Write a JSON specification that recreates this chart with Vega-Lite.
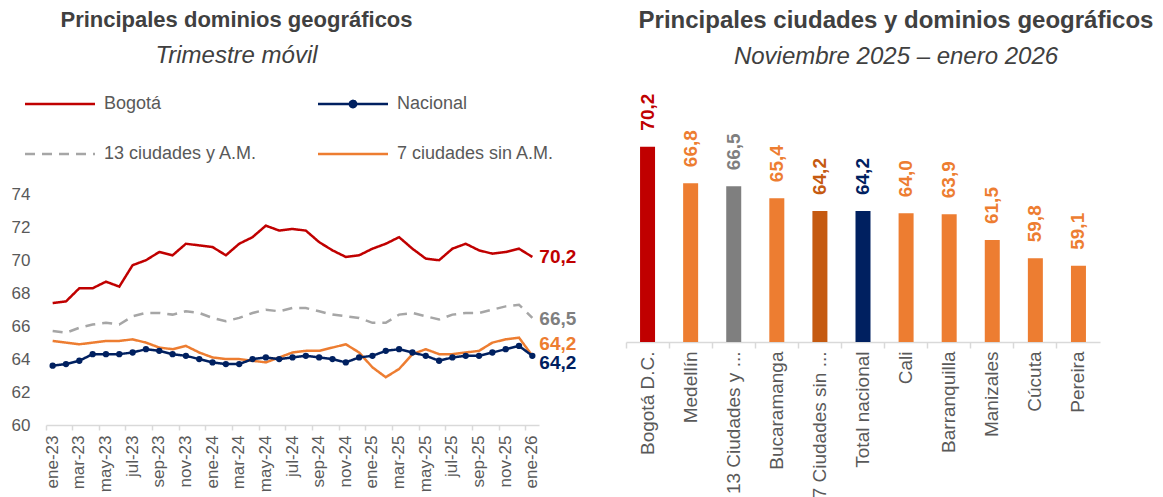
{
  "$schema": "https://vega.github.io/schema/vega-lite/v6.json",
  "background": "white",
  "padding": {"left": 11, "top": 9, "right": 0, "bottom": 0},
  "spacing": 87,
  "bounds": "flush",
  "config": {
    "view": {"stroke": null},
    "font": "Liberation Sans",
    "locale": {"number": {"decimal": ",", "thousands": ".", "grouping": [3], "currency": ["$", ""]}},
    "title": {"font": "Liberation Sans", "fontSize": 22, "fontWeight": "bold", "color": "#404040", "subtitleFont": "Liberation Sans", "subtitleFontSize": 24, "subtitleFontStyle": "italic", "subtitleColor": "#404040", "subtitlePadding": 12, "offset": 10, "anchor": "middle"}
  },
  "resolve": {"scale": {"color": "independent", "x": "independent", "y": "independent", "strokeDash": "independent"}},
  "datasets": {
    "serie": [
      {"mes":"ene-23","serie":"Bogotá","valor":67.4},{"mes":"feb-23","serie":"Bogotá","valor":67.5},{"mes":"mar-23","serie":"Bogotá","valor":68.3},{"mes":"abr-23","serie":"Bogotá","valor":68.3},{"mes":"may-23","serie":"Bogotá","valor":68.7},{"mes":"jun-23","serie":"Bogotá","valor":68.4},{"mes":"jul-23","serie":"Bogotá","valor":69.7},{"mes":"ago-23","serie":"Bogotá","valor":70.0},{"mes":"sep-23","serie":"Bogotá","valor":70.5},{"mes":"oct-23","serie":"Bogotá","valor":70.3},{"mes":"nov-23","serie":"Bogotá","valor":71.0},{"mes":"dic-23","serie":"Bogotá","valor":70.9},{"mes":"ene-24","serie":"Bogotá","valor":70.8},{"mes":"feb-24","serie":"Bogotá","valor":70.3},{"mes":"mar-24","serie":"Bogotá","valor":71.0},{"mes":"abr-24","serie":"Bogotá","valor":71.4},{"mes":"may-24","serie":"Bogotá","valor":72.1},{"mes":"jun-24","serie":"Bogotá","valor":71.8},{"mes":"jul-24","serie":"Bogotá","valor":71.9},{"mes":"ago-24","serie":"Bogotá","valor":71.8},{"mes":"sep-24","serie":"Bogotá","valor":71.1},{"mes":"oct-24","serie":"Bogotá","valor":70.6},{"mes":"nov-24","serie":"Bogotá","valor":70.2},{"mes":"dic-24","serie":"Bogotá","valor":70.3},{"mes":"ene-25","serie":"Bogotá","valor":70.7},{"mes":"feb-25","serie":"Bogotá","valor":71.0},{"mes":"mar-25","serie":"Bogotá","valor":71.4},{"mes":"abr-25","serie":"Bogotá","valor":70.7},{"mes":"may-25","serie":"Bogotá","valor":70.1},{"mes":"jun-25","serie":"Bogotá","valor":70.0},{"mes":"jul-25","serie":"Bogotá","valor":70.7},{"mes":"ago-25","serie":"Bogotá","valor":71.0},{"mes":"sep-25","serie":"Bogotá","valor":70.6},{"mes":"oct-25","serie":"Bogotá","valor":70.4},{"mes":"nov-25","serie":"Bogotá","valor":70.5},{"mes":"dic-25","serie":"Bogotá","valor":70.7},{"mes":"ene-26","serie":"Bogotá","valor":70.2},
      {"mes":"ene-23","serie":"13 ciudades y A.M.","valor":65.7},{"mes":"feb-23","serie":"13 ciudades y A.M.","valor":65.6},{"mes":"mar-23","serie":"13 ciudades y A.M.","valor":65.9},{"mes":"abr-23","serie":"13 ciudades y A.M.","valor":66.1},{"mes":"may-23","serie":"13 ciudades y A.M.","valor":66.2},{"mes":"jun-23","serie":"13 ciudades y A.M.","valor":66.1},{"mes":"jul-23","serie":"13 ciudades y A.M.","valor":66.6},{"mes":"ago-23","serie":"13 ciudades y A.M.","valor":66.8},{"mes":"sep-23","serie":"13 ciudades y A.M.","valor":66.8},{"mes":"oct-23","serie":"13 ciudades y A.M.","valor":66.7},{"mes":"nov-23","serie":"13 ciudades y A.M.","valor":66.9},{"mes":"dic-23","serie":"13 ciudades y A.M.","valor":66.8},{"mes":"ene-24","serie":"13 ciudades y A.M.","valor":66.5},{"mes":"feb-24","serie":"13 ciudades y A.M.","valor":66.3},{"mes":"mar-24","serie":"13 ciudades y A.M.","valor":66.5},{"mes":"abr-24","serie":"13 ciudades y A.M.","valor":66.8},{"mes":"may-24","serie":"13 ciudades y A.M.","valor":67.0},{"mes":"jun-24","serie":"13 ciudades y A.M.","valor":66.9},{"mes":"jul-24","serie":"13 ciudades y A.M.","valor":67.1},{"mes":"ago-24","serie":"13 ciudades y A.M.","valor":67.1},{"mes":"sep-24","serie":"13 ciudades y A.M.","valor":66.9},{"mes":"oct-24","serie":"13 ciudades y A.M.","valor":66.7},{"mes":"nov-24","serie":"13 ciudades y A.M.","valor":66.6},{"mes":"dic-24","serie":"13 ciudades y A.M.","valor":66.5},{"mes":"ene-25","serie":"13 ciudades y A.M.","valor":66.2},{"mes":"feb-25","serie":"13 ciudades y A.M.","valor":66.2},{"mes":"mar-25","serie":"13 ciudades y A.M.","valor":66.7},{"mes":"abr-25","serie":"13 ciudades y A.M.","valor":66.8},{"mes":"may-25","serie":"13 ciudades y A.M.","valor":66.6},{"mes":"jun-25","serie":"13 ciudades y A.M.","valor":66.4},{"mes":"jul-25","serie":"13 ciudades y A.M.","valor":66.7},{"mes":"ago-25","serie":"13 ciudades y A.M.","valor":66.8},{"mes":"sep-25","serie":"13 ciudades y A.M.","valor":66.8},{"mes":"oct-25","serie":"13 ciudades y A.M.","valor":67.0},{"mes":"nov-25","serie":"13 ciudades y A.M.","valor":67.2},{"mes":"dic-25","serie":"13 ciudades y A.M.","valor":67.3},{"mes":"ene-26","serie":"13 ciudades y A.M.","valor":66.5},
      {"mes":"ene-23","serie":"7 ciudades sin A.M.","valor":65.1},{"mes":"feb-23","serie":"7 ciudades sin A.M.","valor":65.0},{"mes":"mar-23","serie":"7 ciudades sin A.M.","valor":64.9},{"mes":"abr-23","serie":"7 ciudades sin A.M.","valor":65.0},{"mes":"may-23","serie":"7 ciudades sin A.M.","valor":65.1},{"mes":"jun-23","serie":"7 ciudades sin A.M.","valor":65.1},{"mes":"jul-23","serie":"7 ciudades sin A.M.","valor":65.2},{"mes":"ago-23","serie":"7 ciudades sin A.M.","valor":65.0},{"mes":"sep-23","serie":"7 ciudades sin A.M.","valor":64.7},{"mes":"oct-23","serie":"7 ciudades sin A.M.","valor":64.6},{"mes":"nov-23","serie":"7 ciudades sin A.M.","valor":64.8},{"mes":"dic-23","serie":"7 ciudades sin A.M.","valor":64.4},{"mes":"ene-24","serie":"7 ciudades sin A.M.","valor":64.1},{"mes":"feb-24","serie":"7 ciudades sin A.M.","valor":64.0},{"mes":"mar-24","serie":"7 ciudades sin A.M.","valor":64.0},{"mes":"abr-24","serie":"7 ciudades sin A.M.","valor":63.9},{"mes":"may-24","serie":"7 ciudades sin A.M.","valor":63.8},{"mes":"jun-24","serie":"7 ciudades sin A.M.","valor":64.1},{"mes":"jul-24","serie":"7 ciudades sin A.M.","valor":64.4},{"mes":"ago-24","serie":"7 ciudades sin A.M.","valor":64.5},{"mes":"sep-24","serie":"7 ciudades sin A.M.","valor":64.5},{"mes":"oct-24","serie":"7 ciudades sin A.M.","valor":64.7},{"mes":"nov-24","serie":"7 ciudades sin A.M.","valor":64.9},{"mes":"dic-24","serie":"7 ciudades sin A.M.","valor":64.4},{"mes":"ene-25","serie":"7 ciudades sin A.M.","valor":63.5},{"mes":"feb-25","serie":"7 ciudades sin A.M.","valor":62.9},{"mes":"mar-25","serie":"7 ciudades sin A.M.","valor":63.4},{"mes":"abr-25","serie":"7 ciudades sin A.M.","valor":64.3},{"mes":"may-25","serie":"7 ciudades sin A.M.","valor":64.6},{"mes":"jun-25","serie":"7 ciudades sin A.M.","valor":64.3},{"mes":"jul-25","serie":"7 ciudades sin A.M.","valor":64.3},{"mes":"ago-25","serie":"7 ciudades sin A.M.","valor":64.4},{"mes":"sep-25","serie":"7 ciudades sin A.M.","valor":64.5},{"mes":"oct-25","serie":"7 ciudades sin A.M.","valor":65.0},{"mes":"nov-25","serie":"7 ciudades sin A.M.","valor":65.2},{"mes":"dic-25","serie":"7 ciudades sin A.M.","valor":65.3},{"mes":"ene-26","serie":"7 ciudades sin A.M.","valor":64.2},
      {"mes":"ene-23","serie":"Nacional","valor":63.6},{"mes":"feb-23","serie":"Nacional","valor":63.7},{"mes":"mar-23","serie":"Nacional","valor":63.9},{"mes":"abr-23","serie":"Nacional","valor":64.3},{"mes":"may-23","serie":"Nacional","valor":64.3},{"mes":"jun-23","serie":"Nacional","valor":64.3},{"mes":"jul-23","serie":"Nacional","valor":64.4},{"mes":"ago-23","serie":"Nacional","valor":64.6},{"mes":"sep-23","serie":"Nacional","valor":64.5},{"mes":"oct-23","serie":"Nacional","valor":64.3},{"mes":"nov-23","serie":"Nacional","valor":64.2},{"mes":"dic-23","serie":"Nacional","valor":64.0},{"mes":"ene-24","serie":"Nacional","valor":63.8},{"mes":"feb-24","serie":"Nacional","valor":63.7},{"mes":"mar-24","serie":"Nacional","valor":63.7},{"mes":"abr-24","serie":"Nacional","valor":64.0},{"mes":"may-24","serie":"Nacional","valor":64.1},{"mes":"jun-24","serie":"Nacional","valor":64.0},{"mes":"jul-24","serie":"Nacional","valor":64.1},{"mes":"ago-24","serie":"Nacional","valor":64.2},{"mes":"sep-24","serie":"Nacional","valor":64.1},{"mes":"oct-24","serie":"Nacional","valor":64.0},{"mes":"nov-24","serie":"Nacional","valor":63.8},{"mes":"dic-24","serie":"Nacional","valor":64.1},{"mes":"ene-25","serie":"Nacional","valor":64.2},{"mes":"feb-25","serie":"Nacional","valor":64.5},{"mes":"mar-25","serie":"Nacional","valor":64.6},{"mes":"abr-25","serie":"Nacional","valor":64.4},{"mes":"may-25","serie":"Nacional","valor":64.2},{"mes":"jun-25","serie":"Nacional","valor":63.9},{"mes":"jul-25","serie":"Nacional","valor":64.1},{"mes":"ago-25","serie":"Nacional","valor":64.2},{"mes":"sep-25","serie":"Nacional","valor":64.2},{"mes":"oct-25","serie":"Nacional","valor":64.4},{"mes":"nov-25","serie":"Nacional","valor":64.6},{"mes":"dic-25","serie":"Nacional","valor":64.8},{"mes":"ene-26","serie":"Nacional","valor":64.2}
    ],
    "ciudades": [
      {"ciudad":"Bogotá D.C.","valor":70.2,"grupo":"Bogotá"},
      {"ciudad":"Medellín","valor":66.8,"grupo":"Ciudad"},
      {"ciudad":"13 Ciudades y ...","valor":66.5,"grupo":"13 ciudades"},
      {"ciudad":"Bucaramanga","valor":65.4,"grupo":"Ciudad"},
      {"ciudad":"7 Ciudades sin ...","valor":64.2,"grupo":"7 ciudades"},
      {"ciudad":"Total nacional","valor":64.2,"grupo":"Nacional"},
      {"ciudad":"Cali","valor":64.0,"grupo":"Ciudad"},
      {"ciudad":"Barranquilla","valor":63.9,"grupo":"Ciudad"},
      {"ciudad":"Manizales","valor":61.5,"grupo":"Ciudad"},
      {"ciudad":"Cúcuta","valor":59.8,"grupo":"Ciudad"},
      {"ciudad":"Pereira","valor":59.1,"grupo":"Ciudad"}
    ]
  },
  "hconcat": [
    {
      "width": 493,
      "height": 346,
      "title": {"text": "Principales dominios geográficos", "subtitle": "Trimestre móvil", "dx": -56},
      "data": {"name": "serie"},
      "encoding": {
        "x": {
          "field": "mes", "type": "ordinal", "sort": null,
          "scale": {"type": "band", "paddingInner": 0, "paddingOuter": 0,
            "domain": ["ene-23","feb-23","mar-23","abr-23","may-23","jun-23","jul-23","ago-23","sep-23","oct-23","nov-23","dic-23","ene-24","feb-24","mar-24","abr-24","may-24","jun-24","jul-24","ago-24","sep-24","oct-24","nov-24","dic-24","ene-25","feb-25","mar-25","abr-25","may-25","jun-25","jul-25","ago-25","sep-25","oct-25","nov-25","dic-25","ene-26"]},
          "axis": {
            "title": null, "values": ["ene-23","mar-23","may-23","jul-23","sep-23","nov-23","ene-24","mar-24","may-24","jul-24","sep-24","nov-24","ene-25","mar-25","may-25","jul-25","sep-25","nov-25","ene-26"],
            "bandPosition": 0, "labelAngle": -90, "labelAlign": "right", "labelBaseline": "middle",
            "labelFontSize": 17, "labelColor": "#595959", "labelPadding": 5,
            "domainColor": "#D9D9D9", "domainWidth": 1.5, "tickColor": "#D9D9D9", "tickWidth": 1.5, "tickSize": 5, "grid": false
          }
        },
        "y": {
          "field": "valor", "type": "quantitative",
          "scale": {"domain": [60, 81], "nice": false, "zero": false},
          "axis": {"title": null, "values": [60, 62, 64, 66, 68, 70, 72, 74], "domain": false, "ticks": false, "grid": false, "labelFontSize": 17, "labelColor": "#595959", "labelPadding": 16}
        }
      },
      "layer": [
        {
          "mark": {"type": "line", "strokeWidth": 2.5},
          "encoding": {
            "color": {
              "field": "serie", "type": "nominal",
              "scale": {"domain": ["Bogotá", "Nacional", "13 ciudades y A.M.", "7 ciudades sin A.M."], "range": ["#C00000", "#002060", "#A6A6A6", "#ED7D31"]},
              "legend": {
                "orient": "none", "direction": "horizontal", "legendX": 5, "legendY": 16, "columns": 2, "title": null,
                "symbolSize": 196, "symbolStrokeWidth": 2.5, "symbolType": "M-5,0H5",
                "labelFontSize": 18, "labelColor": "#595959", "labelFont": "Liberation Sans", "labelOffset": 35,
                "columnPadding": 55, "rowPadding": 32,
                "encode": {
                  "symbols": {
                    "update": {
                      "shape": {"signal": "datum.value === 'Nacional' ? 'M-5,0H5M-0.45,0A0.45,0.45 0 1,0 0.45,0A0.45,0.45 0 1,0 -0.45,0Z' : 'M-5,0H5'"},
                      "fill": {"signal": "datum.value === 'Nacional' ? '#002060' : 'transparent'"},
                      "strokeDash": {"signal": "datum.value === '13 ciudades y A.M.' ? [10, 7] : [1, 0]"}
                    }
                  }
                }
              }
            },
            "strokeDash": {
              "field": "serie", "type": "nominal",
              "scale": {"domain": ["Bogotá", "Nacional", "13 ciudades y A.M.", "7 ciudades sin A.M."], "range": [[1, 0], [1, 0], [10, 7], [1, 0]]},
              "legend": null
            }
          }
        },
        {
          "transform": [{"filter": "datum.serie === 'Nacional'"}],
          "mark": {"type": "point", "filled": true, "size": 40, "opacity": 1, "color": "#002060"}
        },
        {
          "transform": [{"filter": "datum.mes === 'ene-26' && datum.serie === 'Bogotá'"}],
          "mark": {"type": "text", "align": "left", "baseline": "middle", "dx": 7, "fontSize": 19, "fontWeight": "bold", "color": "#C00000"},
          "encoding": {"text": {"field": "valor", "type": "quantitative", "format": ".1f"}}
        },
        {
          "transform": [{"filter": "datum.mes === 'ene-26' && datum.serie === '13 ciudades y A.M.'"}],
          "mark": {"type": "text", "align": "left", "baseline": "middle", "dx": 7, "dy": 1, "fontSize": 19, "fontWeight": "bold", "color": "#7F7F7F"},
          "encoding": {"text": {"field": "valor", "type": "quantitative", "format": ".1f"}}
        },
        {
          "transform": [{"filter": "datum.mes === 'ene-26' && datum.serie === '7 ciudades sin A.M.'"}],
          "mark": {"type": "text", "align": "left", "baseline": "middle", "dx": 7, "dy": -12, "fontSize": 19, "fontWeight": "bold", "color": "#ED7D31"},
          "encoding": {"text": {"field": "valor", "type": "quantitative", "format": ".1f"}}
        },
        {
          "transform": [{"filter": "datum.mes === 'ene-26' && datum.serie === 'Nacional'"}],
          "mark": {"type": "text", "align": "left", "baseline": "middle", "dx": 7, "dy": 7, "fontSize": 19, "fontWeight": "bold", "color": "#002060"},
          "encoding": {"text": {"field": "valor", "type": "quantitative", "format": ".1f"}}
        }
      ]
    },
    {
      "width": 474,
      "height": 263,
      "title": {"text": "Principales ciudades y dominios geográficos", "subtitle": "Noviembre 2025 – enero 2026", "dx": 33, "fontSize": 24},
      "data": {"name": "ciudades"},
      "encoding": {
        "x": {
          "field": "ciudad", "type": "nominal", "sort": null,
          "scale": {"type": "band", "paddingInner": 0, "paddingOuter": 0},
          "axis": {
            "title": null, "bandPosition": 0, "labelAngle": -90, "labelAlign": "right", "labelBaseline": "middle",
            "labelFontSize": 19, "labelColor": "#595959", "labelPadding": 3, "labelLimit": 300,
            "domainColor": "#D9D9D9", "domainWidth": 1.5, "tickColor": "#D9D9D9", "tickWidth": 1.5, "tickSize": 6
          }
        },
        "y": {
          "field": "valor", "type": "quantitative",
          "scale": {"domain": [52, 76.5], "nice": false, "zero": false},
          "axis": null
        },
        "color": {
          "field": "grupo", "type": "nominal",
          "scale": {"domain": ["Bogotá", "Ciudad", "13 ciudades", "7 ciudades", "Nacional"], "range": ["#C00000", "#ED7D31", "#7F7F7F", "#C55A11", "#002060"]},
          "legend": null
        }
      },
      "layer": [
        {"mark": {"type": "bar", "size": 15}, "encoding": {"y2": {"datum": 52}}},
        {
          "mark": {"type": "text", "angle": 270, "align": "left", "baseline": "middle", "dx": 16, "fontSize": 19, "fontWeight": "bold"},
          "encoding": {"text": {"field": "valor", "type": "quantitative", "format": ".1f"}}
        }
      ]
    }
  ]
}
